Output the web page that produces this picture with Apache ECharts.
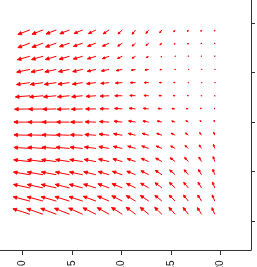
<!DOCTYPE html>
<html>
<head>
<meta charset="utf-8">
<script src="https://cdn.jsdelivr.net/npm/echarts@6/dist/echarts.min.js"></script>
<style>
html,body{margin:0;padding:0;background:#fff;}
#chart{width:257px;height:267px;}
</style>
</head>
<body>
<div id="chart"></div>
<script>
// Grid positions of the arrow tails (axis units)
const xs = [0.75, 2.08, 3.42, 4.75, 6.08, 7.42, 8.75, 10.08, 11.42, 12.75, 14.08, 15.42, 16.75, 18.08, 19.42];
const ys = [19.3, 17.97, 16.64, 15.31, 13.98, 12.65, 11.32, 9.99, 8.66, 7.33, 6.0, 4.67, 3.34, 2.01, 0.68];

// Horizontal components (row 0 = top row), negative = leftwards
const uRows = [
  [-12, -11, -10.3, -9.6, -8.5, -7.5, -5.8, -4.3, -3.4, -2.8, -2.2, -1.5, -0.9, -0.5, -0.3],
  [-12, -11, -10.8, -10, -9.2, -8.4, -6.6, -4.5, -3.5, -2.8, -2, -1, -0.6, -0.3, -0.2],
  [-12.5, -11.5, -11, -10.3, -9.3, -8.5, -6.7, -4.8, -3.5, -2.5, -1, -0.3, -0.2, -0.2, -0.2],
  [-13.2, -12, -11.5, -11, -10, -8.7, -7.7, -6, -4.3, -3.8, -2, -0.5, -0.2, -0.2, -0.2],
  [-13.5, -12.7, -12, -11.5, -10.2, -9.4, -8.4, -6.8, -5.2, -4.5, -2.5, -1.5, -0.4, -0.2, -0.2],
  [-14.5, -13.5, -12.8, -12, -11, -10, -9, -7.5, -5.8, -4.8, -3, -2, -1, -0.4, -0.2],
  [-15.3, -14.3, -13.5, -12.5, -11.3, -10.3, -9.2, -7.8, -6.3, -5.3, -4, -3.3, -2.3, -1.3, -0.4],
  [-16, -15, -14, -13, -12, -10.8, -9.6, -8.3, -7, -5.8, -4.6, -3.5, -2.5, -1.5, -0.8],
  [-16, -15.2, -14.3, -13.3, -12.3, -11.2, -10, -8.7, -7.3, -6.5, -5.2, -4, -2.9, -1.8, -1],
  [-16, -15.3, -14.5, -13.6, -12.6, -11.5, -10.3, -9, -7.8, -7, -5.8, -4.5, -3.4, -2.3, -1.3],
  [-16.2, -15.5, -14.7, -13.8, -12.9, -11.8, -10.6, -9.4, -8.3, -7.5, -6.2, -5, -3.8, -2.6, -1.6],
  [-16.4, -15.7, -14.9, -14, -13.2, -12.2, -11, -9.9, -8.7, -7.8, -6.6, -5.4, -4.2, -3, -1.9],
  [-16.5, -15.8, -15.1, -14.3, -13.4, -12.4, -11.3, -10.2, -9, -8.1, -6.8, -5.8, -4.6, -3.4, -2.2],
  [-16.7, -16, -15.3, -14.6, -13.7, -12.8, -11.6, -10.5, -9.3, -8.4, -7, -6, -4.9, -3.8, -2.5],
  [-17, -16.3, -15.6, -15, -14, -13, -11.8, -10.8, -9.5, -8.5, -7.2, -6.2, -5.1, -4.1, -2.8]
];

// Vertical components (row 0 = top row), positive = upwards
const vRows = [
  [-4.5, -4.3, -4.0, -3.8, -3.5, -3.7, -3.9, -4.1, -4.3, -3.5, -2.8, -2.0, -1.7, -1.5, -1.2],
  [-4.5, -4.2, -3.9, -3.6, -3.3, -3.2, -3.2, -3.1, -3.0, -2.4, -1.8, -1.2, -1.1, -0.9, -0.8],
  [-3.5, -3.3, -3.2, -3.0, -2.8, -2.6, -2.4, -2.2, -2.0, -1.4, -0.8, -0.2, -0.2, -0.3, -0.3],
  [-2.7, -2.6, -2.5, -2.3, -2.2, -1.9, -1.5, -1.2, -0.8, -0.5, -0.3, 0, 0, -0.1, -0.1],
  [-2.0, -1.9, -1.8, -1.7, -1.6, -1.2, -0.9, -0.5, -0.1, 0, 0, 0.1, 0.1, 0.1, 0.1],
  [-1.2, -1.2, -1.1, -1.1, -1.0, -0.7, -0.4, 0, 0.3, 0.3, 0.2, 0.2, 0.2, 0.3, 0.3],
  [-0.3, -0.3, -0.3, -0.3, -0.3, 0, 0.2, 0.5, 0.7, 0.6, 0.5, 0.4, 0.5, 0.7, 0.8],
  [0, 0, 0, 0, 0, 0.3, 0.6, 0.9, 1.2, 1.1, 1.1, 1.0, 1.3, 1.5, 1.8],
  [0.4, 0.4, 0.5, 0.5, 0.5, 0.8, 1.2, 1.5, 1.8, 1.9, 1.9, 2.0, 2.3, 2.7, 3.0],
  [1.0, 1.1, 1.1, 1.2, 1.2, 1.5, 1.8, 2.0, 2.3, 2.4, 2.4, 2.5, 3.0, 3.5, 4.0],
  [1.8, 1.9, 1.9, 2.0, 2.0, 2.2, 2.5, 2.7, 2.9, 3.2, 3.5, 3.8, 4.2, 4.6, 5.0],
  [2.7, 2.7, 2.8, 2.8, 2.8, 3.0, 3.2, 3.4, 3.6, 4.0, 4.4, 4.8, 5.0, 5.3, 5.5],
  [3.5, 3.5, 3.5, 3.6, 3.6, 3.8, 4.1, 4.3, 4.5, 4.8, 5.2, 5.5, 5.6, 5.7, 5.8],
  [4.3, 4.4, 4.4, 4.5, 4.5, 4.8, 5.0, 5.3, 5.5, 5.7, 5.8, 6.0, 6.1, 6.1, 6.2],
  [5.5, 5.7, 5.9, 6.0, 6.2, 6.4, 6.6, 6.8, 7.0, 6.9, 6.9, 6.8, 6.7, 6.6, 6.5]
];

const xTicks = [0, 5, 10, 15, 20];
const yTicks = [0, 5, 10, 15, 20];

const arrowScale = 0.101; // axis units per vector unit

const data = [];
for (let j = 0; j < ys.length; j++) {
  for (let i = 0; i < xs.length; i++) {
    data.push([xs[i], ys[j], uRows[j][i], vRows[j][i]]);
  }
}

const chart = echarts.init(document.getElementById('chart'), null, {renderer: 'canvas'});
const axisColor = '#333';

chart.setOption({
  animation: false,
  backgroundColor: '#ffffff',
  grid: {left: -27, right: 6, top: -26.5, bottom: 17, containLabel: false, outerBoundsMode: 'none'},
  xAxis: {
    type: 'value', min: -5, max: 23.08, position: 'bottom',
    axisLine: {show: true, onZero: false, lineStyle: {color: axisColor, width: 1}},
    axisTick: {show: true, length: 5, customValues: xTicks, lineStyle: {color: axisColor, width: 1}},
    axisLabel: {show: true, customValues: xTicks, rotate: 90, margin: 10.5, fontSize: 10,
      fontFamily: 'Liberation Sans, Arial, sans-serif', color: '#111', hideOverlap: false},
    splitLine: {show: false}
  },
  yAxis: {
    type: 'value', min: -2.93, max: 25, position: 'right',
    axisLine: {show: true, onZero: false, lineStyle: {color: axisColor, width: 1}},
    axisTick: {show: true, length: 4, customValues: yTicks, lineStyle: {color: axisColor, width: 1}},
    axisLabel: {show: false},
    splitLine: {show: false}
  },
  series: [{
    type: 'custom',
    data: data,
    encode: {x: 0, y: 1},
    clip: false,
    renderItem: function (params, api) {
      const x = api.value(0), y = api.value(1), u = api.value(2), v = api.value(3);
      const p0 = api.coord([x, y]);
      const p1 = api.coord([x + u * arrowScale, y + v * arrowScale]);
      const dx = p1[0] - p0[0], dy = p1[1] - p0[1];
      const len = Math.sqrt(dx * dx + dy * dy);
      const ang = Math.atan2(dy, dx);
      const h = Math.max(0.8, Math.min(4, 0.3 * len + 0.6));
      const a = Math.PI / 7;
      const l1 = [p1[0] - h * Math.cos(ang - a), p1[1] - h * Math.sin(ang - a)];
      const l2 = [p1[0] - h * Math.cos(ang + a), p1[1] - h * Math.sin(ang + a)];
      const red = '#ff0000';
      return {
        type: 'group',
        children: [
          {type: 'line', shape: {x1: p0[0], y1: p0[1], x2: p1[0], y2: p1[1]},
           style: {stroke: red, lineWidth: 1}},
          {type: 'polygon', shape: {points: [l1, p1, l2]},
           style: {fill: red, stroke: red, lineWidth: 0.8}}
        ]
      };
    }
  }]
});
</script>
</body>
</html>
